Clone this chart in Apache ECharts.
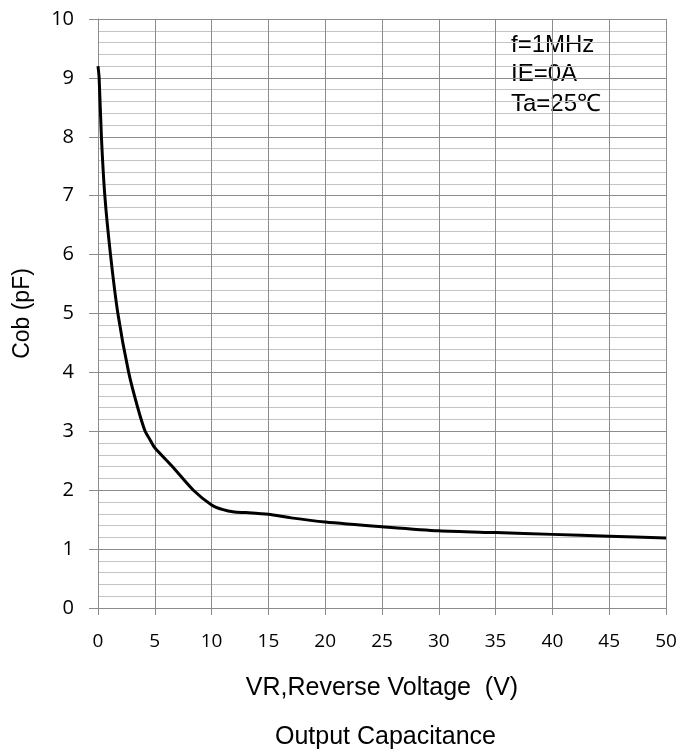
<!DOCTYPE html>
<html>
<head>
<meta charset="utf-8">
<script src="https://cdn.jsdelivr.net/npm/echarts@6/dist/echarts.min.js"></script>
<style>
html,body{margin:0;padding:0;background:#fff;}
#chart{width:683px;height:753px;}
</style>
</head>
<body>
<div id="chart"></div>
<script>
// Data
const voltage = [0, 0.1, 0.3, 0.6, 1.1, 1.75, 2.7, 3.5, 4.15, 4.6, 5, 6.6, 8.4, 10, 11, 12, 13, 15, 17, 20, 25, 30, 35, 40, 45, 50];
const capacitance = [9.2, 9.0, 8.0, 7.0, 6.0, 5.0, 4.0, 3.4, 3.0, 2.85, 2.72, 2.39, 2.0, 1.75, 1.67, 1.63, 1.62, 1.59, 1.53, 1.46, 1.38, 1.31, 1.28, 1.25, 1.22, 1.19];
const conditions = ['f=1MHz', 'IE=0A', 'Ta=25\u2103'];
const titleText = 'Output Capacitance';
const xName = 'VR,Reverse Voltage  (V)';
const yName = 'Cob (pF)';

const chart = echarts.init(document.getElementById('chart'));
const major = '#8c8c8c';
const minor = '#c4c4c4';
const labelFont = 'Open Sans';
const textFont = 'Liberation Sans';

chart.setOption({
  animation: false,
  backgroundColor: '#ffffff',
  title: {
    text: titleText,
    left: 270,
    top: 720,
    textStyle: {fontFamily: textFont, fontSize: 25, fontWeight: 'normal', color: '#000'}
  },
  grid: {left: 98, right: 17, top: 19, bottom: 145},
  xAxis: {
    type: 'value', min: 0, max: 50, interval: 5,
    name: xName, nameLocation: 'middle', nameGap: 68,
    nameTextStyle: {fontFamily: textFont, fontSize: 25, color: '#000'},
    axisLine: {show: true, lineStyle: {color: major, width: 1}},
    axisTick: {show: true, length: 7, lineStyle: {color: major}},
    axisLabel: {fontFamily: labelFont, fontSize: 19, color: '#000', margin: 24},
    splitLine: {show: true, lineStyle: {color: major, width: 1}}
  },
  yAxis: {
    type: 'value', min: 0, max: 10, interval: 1,
    name: yName, nameLocation: 'middle', nameGap: 64, nameRotate: 90,
    nameTextStyle: {fontFamily: textFont, fontSize: 23, color: '#000'},
    axisLine: {show: true, lineStyle: {color: major, width: 1}},
    axisTick: {show: true, length: 9, lineStyle: {color: major}},
    axisLabel: {fontFamily: labelFont, fontSize: 20, color: '#000', margin: 24},
    splitLine: {show: true, lineStyle: {color: major, width: 1}},
    minorTick: {show: false, splitNumber: 5},
    minorSplitLine: {show: true, lineStyle: {color: minor, width: 1}}
  },
  graphic: conditions.map((t, i) => ({
    type: 'text', left: 511, top: 33 + i * 29.5,
    style: {text: t, font: '24px "Liberation Sans"', fill: '#000'}
  })),
  series: [{
    type: 'line',
    data: voltage.map((v, i) => [v, capacitance[i]]),
    smooth: 0.25,
    symbol: 'none',
    lineStyle: {color: '#000', width: 3}
  }]
});
</script>
</body>
</html>
